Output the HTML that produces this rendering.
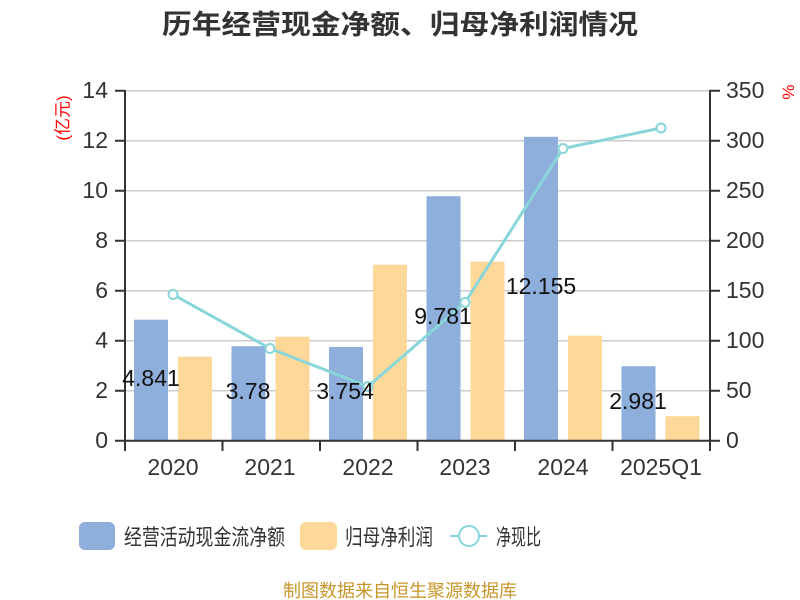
<!DOCTYPE html>
<html><head><meta charset="utf-8"><style>
body{margin:0;background:#fff}
svg{display:block;font-family:"Liberation Sans","Noto Sans CJK SC",sans-serif}
</style></head><body>
<svg width="800" height="600" viewBox="0 0 800 600">
<text x="162" y="34" font-size="27" font-weight="bold" fill="#333" textLength="476" lengthAdjust="spacingAndGlyphs">历年经营现金净额、归母净利润情况</text>
<g stroke="#ccc" stroke-width="1.5">
<line x1="125" x2="710" y1="90.7" y2="90.7"/><line x1="125" x2="710" y1="140.7" y2="140.7"/>
<line x1="125" x2="710" y1="190.7" y2="190.7"/><line x1="125" x2="710" y1="240.7" y2="240.7"/>
<line x1="125" x2="710" y1="290.7" y2="290.7"/><line x1="125" x2="710" y1="340.7" y2="340.7"/>
<line x1="125" x2="710" y1="390.7" y2="390.7"/>
</g>
<g fill="#8eaedb">
<rect x="134" y="319.7" width="34" height="121"/>
<rect x="231.5" y="346.2" width="34" height="94.5"/>
<rect x="329" y="346.9" width="34" height="93.8"/>
<rect x="426.5" y="196.2" width="34" height="244.5"/>
<rect x="524" y="136.8" width="34" height="303.9"/>
<rect x="621.5" y="366.2" width="34" height="74.5"/>
</g>
<g fill="#fed898">
<rect x="178" y="356.7" width="34" height="84"/>
<rect x="275.5" y="336.7" width="34" height="104"/>
<rect x="373" y="264.7" width="34" height="176"/>
<rect x="470.5" y="261.7" width="34" height="179"/>
<rect x="568" y="335.7" width="34" height="105"/>
<rect x="665.5" y="416.2" width="34" height="24.5"/>
</g>
<g stroke="#333" stroke-width="2" fill="none">
<line x1="125" y1="90" x2="125" y2="441"/><line x1="710" y1="90" x2="710" y2="441"/>
<line x1="124" y1="440.7" x2="711" y2="440.7"/>
<path d="M115 90.7H125M115 140.7H125M115 190.7H125M115 240.7H125M115 290.7H125M115 340.7H125M115 390.7H125M115 440.7H125"/>
<path d="M710 90.7H720M710 140.7H720M710 190.7H720M710 240.7H720M710 290.7H720M710 340.7H720M710 390.7H720M710 440.7H720"/>
<path d="M125 441V451M222.5 441V451M320 441V451M417.5 441V451M515 441V451M612.5 441V451M710 441V451"/>
</g>
<g font-size="23" fill="#333" text-anchor="end">
<text x="108" y="98">14</text><text x="108" y="148">12</text><text x="108" y="198">10</text>
<text x="108" y="248">8</text><text x="108" y="298">6</text><text x="108" y="348">4</text>
<text x="108" y="398">2</text><text x="108" y="448">0</text>
</g>
<g font-size="23" fill="#333" text-anchor="start">
<text x="726" y="98">350</text><text x="726" y="148">300</text><text x="726" y="198">250</text>
<text x="726" y="248">200</text><text x="726" y="298">150</text><text x="726" y="348">100</text>
<text x="726" y="398">50</text><text x="726" y="448">0</text>
</g>
<g font-size="23" fill="#333" text-anchor="middle">
<text x="173" y="475">2020</text><text x="270" y="475">2021</text><text x="368" y="475">2022</text>
<text x="465" y="475">2023</text><text x="563" y="475">2024</text><text x="661" y="475">2025Q1</text>
</g>
<text transform="translate(64,118) rotate(-90)" font-size="17" fill="#f00" text-anchor="middle" dominant-baseline="middle">(亿元)</text>
<text transform="translate(787,92) rotate(90)" font-size="17" fill="#f00" text-anchor="middle" dominant-baseline="middle">%</text>
<polyline points="173,294.5 270,348.5 368,386.5 465,302.5 563,148.5 661,128" fill="none" stroke="#88d6d9" stroke-width="3"/>
<g fill="#fff" stroke="#88d6d9" stroke-width="2">
<circle cx="173" cy="294.5" r="4.5"/><circle cx="270" cy="348.5" r="4.5"/><circle cx="368" cy="386.5" r="4.5"/>
<circle cx="465" cy="302.5" r="4.5"/><circle cx="563" cy="148.5" r="4.5"/><circle cx="661" cy="128" r="4.5"/>
</g>
<g font-size="23" fill="#111" text-anchor="middle">
<text x="151" y="386">4.841</text><text x="248" y="399">3.78</text><text x="345" y="399">3.754</text>
<text x="443" y="324">9.781</text><text x="541" y="294">12.155</text><text x="638" y="409">2.981</text>
</g>
<rect x="79" y="522" width="36" height="28" rx="6" fill="#8eaedb"/>
<text x="124" y="545" font-size="22" fill="#333" textLength="161" lengthAdjust="spacingAndGlyphs">经营活动现金流净额</text>
<rect x="300" y="522" width="37" height="28" rx="6" fill="#fed898"/>
<text x="345" y="545" font-size="22" fill="#333" textLength="88" lengthAdjust="spacingAndGlyphs">归母净利润</text>
<line x1="450" y1="536" x2="487" y2="536" stroke="#88d6d9" stroke-width="2"/>
<circle cx="469" cy="536" r="10" fill="#fff" stroke="#88d6d9" stroke-width="2"/>
<text x="496" y="545" font-size="22" fill="#333" textLength="45" lengthAdjust="spacingAndGlyphs">净现比</text>
<text x="283" y="597" font-size="18" fill="#c8962a" textLength="234" lengthAdjust="spacingAndGlyphs">制图数据来自恒生聚源数据库</text>
</svg>
</body></html>
